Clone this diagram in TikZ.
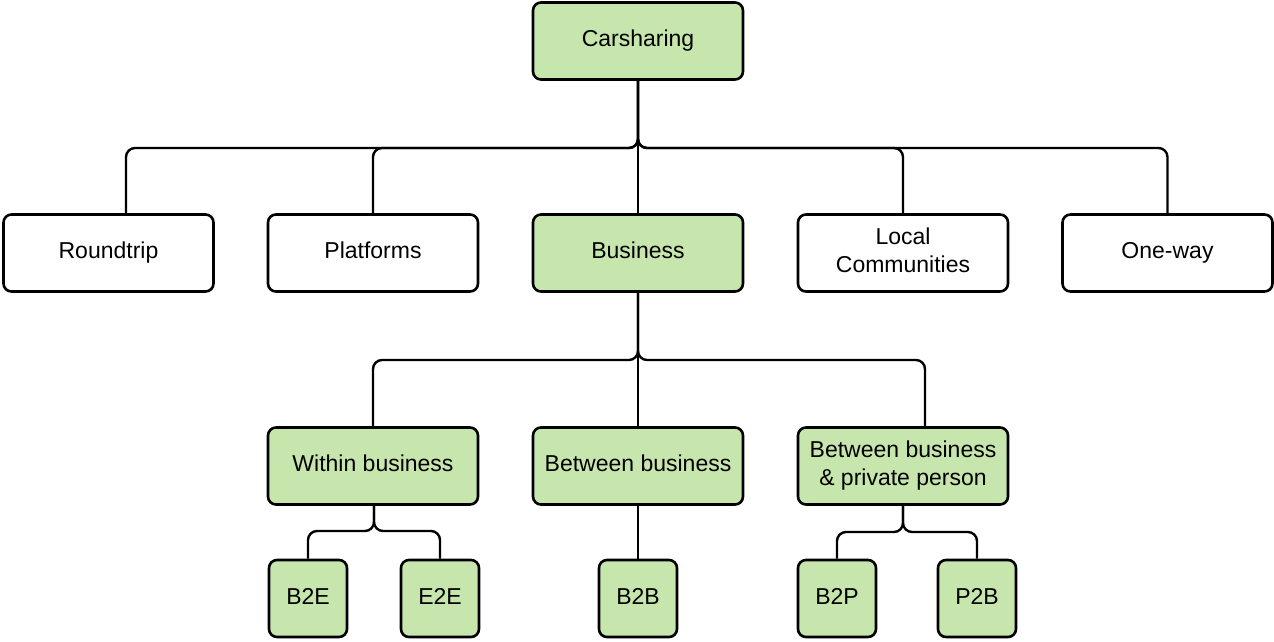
\documentclass[tikz,border=0pt]{standalone}
\usepackage{fontspec}
\setmainfont{Liberation Sans}
\definecolor{boxgreen}{RGB}{199,230,173}
\begin{document}
\begin{tikzpicture}[x=1pt,y=-1pt,
  box/.style={draw=black,line width=2.6pt,rounded corners=8pt,align=center,
    minimum width=210pt,minimum height=77pt,inner sep=0pt,
    font=\fontsize{23}{28}\selectfont},
  one/.style={text height=16.6pt,text depth=5.4pt},
  two/.style={text height=44.6pt,text depth=6pt},
  gbox/.style={box,fill=boxgreen},
  wbox/.style={box,fill=white},
  sbox/.style={gbox,one,minimum width=78pt},
  conn/.style={line width=2.4pt,rounded corners=9pt}]
\useasboundingbox (0,0) rectangle (1274,641);
% nodes
\node[gbox,one] (car) at (638,41) {Carsharing};
\node[wbox,one] (rt) at (108.5,253) {Roundtrip};
\node[wbox,one] (pl) at (373,253) {Platforms};
\node[gbox,one] (bus) at (638,253) {Business};
\node[wbox,two] (lc) at (903,253) {Local\\Communities};
\node[wbox,one] (ow) at (1167.5,253) {One-way};
\node[gbox,one] (wb) at (373,466) {Within business};
\node[gbox,one] (bb) at (638,466) {Between business};
\node[gbox,two] (bp) at (903,466) {Between business\\\& private person};
\node[sbox] (b2e) at (308,598.5) {B2E};
\node[sbox] (e2e) at (440,598.5) {E2E};
\node[sbox] (b2b) at (638,598.5) {B2B};
\node[sbox] (b2p) at (837,598.5) {B2P};
\node[sbox] (p2b) at (977,598.5) {P2B};
% junctions and offset endpoints
\coordinate (j1) at (638,148);
\coordinate (j2) at (638,360);
\coordinate (j3) at (374,531);
\coordinate (j4) at (903,532);
\coordinate (rtin) at (126,213);
\coordinate (bpin) at (925,426);
% connectors
\draw[conn] (car.south) -- (j1) -| (rtin);
\draw[conn] (car.south) -- (j1) -| (pl.north);
\draw[conn] (car.south) -- (bus.north);
\draw[conn] (car.south) -- (j1) -| (lc.north);
\draw[conn] (car.south) -- (j1) -| (ow.north);
\draw[conn] (bus.south) -- (j2) -| (wb.north);
\draw[conn] (bus.south) -- (bb.north);
\draw[conn] (bus.south) -- (j2) -| (bpin);
\draw[conn] (wb.south -| j3) -- (j3) -| (b2e.north);
\draw[conn] (wb.south -| j3) -- (j3) -| (e2e.north);
\draw[conn] (bb.south) -- (b2b.north);
\draw[conn] (bp.south) -- (j4) -| (b2p.north);
\draw[conn] (bp.south) -- (j4) -| (p2b.north);
\end{tikzpicture}
\end{document}
